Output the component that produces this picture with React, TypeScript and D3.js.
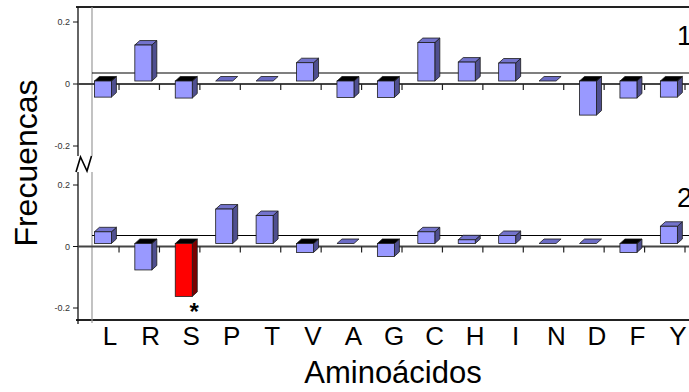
import React from 'react'
import * as d3 from 'd3'

const aminoacids = ['L', 'R', 'S', 'P', 'T', 'V', 'A', 'G', 'C', 'H', 'I', 'N', 'D', 'F', 'Y']
const panel1Values = [-0.052, 0.116, -0.055, 0, 0, 0.059, -0.053, -0.053, 0.124, 0.061, 0.058, 0, -0.11, -0.055, -0.052]
const panel2Values = [0.038, -0.086, -0.172, 0.112, 0.091, -0.029, 0, -0.042, 0.038, 0.012, 0.026, 0, 0, -0.029, 0.056]
const panel2Highlight = ['S']
const yTicks = [-0.2, 0, 0.2]
const panelNames = ['1', '2']

const W = 689
const H = 392
const FONT = 'Arial, "Liberation Sans", sans-serif'

const DX = 5
const DY = 4.5
const SHIFT = 3
const BAR_OFFSET = 15.8
const BAR_W = 17

const BLUE = { front: '#9999ff', side: '#4f4f8f', top: '#7373cc', flat: '#6b6bc4' }
const RED = { front: '#ff0000', side: '#7a0000', top: '#b30000', flat: '#b30000' }

function Bar({ x0, yBase, yVal, c }: { x0: number; yBase: number; yVal: number; c: typeof BLUE }) {
  const w = BAR_W
  const stroke = '#1a1a1a'
  const sw = 0.8
  if (Math.abs(yVal - yBase) < 0.5) {
    const pts = [[x0, yBase], [x0 + DX, yBase - DY], [x0 + w + DX, yBase - DY], [x0 + w, yBase]]
    return <polygon points={pts.map(p => p.join(',')).join(' ')} fill={c.flat} stroke={stroke} strokeWidth={sw} />
  }
  const top = Math.min(yVal, yBase)
  const bot = Math.max(yVal, yBase)
  const neg = yVal > yBase
  const side = [[x0 + w, top], [x0 + w + DX, top - DY], [x0 + w + DX, bot - DY], [x0 + w, bot]]
  const lid = [[x0, top], [x0 + DX, top - DY], [x0 + w + DX, top - DY], [x0 + w, top]]
  return (
    <g>
      <polygon points={side.map(p => p.join(',')).join(' ')} fill={c.side} stroke={stroke} strokeWidth={sw} />
      <polygon points={lid.map(p => p.join(',')).join(' ')} fill={neg ? '#000' : c.top} stroke={stroke} strokeWidth={sw} />
      <rect x={x0} y={top} width={w} height={bot - top} fill={c.front} stroke={stroke} strokeWidth={sw} />
    </g>
  )
}

export default function App() {
  const x = d3.scaleBand<string>().domain(aminoacids).range([78.6, 685]).paddingInner(0).paddingOuter(0)
  const xLabel = d3.scalePoint<string>().domain(aminoacids).range([110, 678])

  const panels = [
    { name: panelNames[0], values: panel1Values, y: d3.scaleLinear().domain([-0.2, 0.2]).range([146, 22]), nameY: 45 },
    { name: panelNames[1], values: panel2Values, y: d3.scaleLinear().domain([-0.2, 0.2]).range([308, 185]), nameY: 207 },
  ]

  const axisX = 78
  const innerX = 92
  const topY = 7
  const bottomY = 320
  const breakTop = 156
  const breakBot = 172

  return (
    <div style={{ position: 'fixed', left: 0, top: 0 }}>
      <svg width={W} height={H} style={{ display: 'block', background: '#fff' }}>
        {/* frame */}
        <line x1={76} x2={W} y1={topY} y2={topY} stroke="#222" strokeWidth={2} />
        <line x1={76} x2={W} y1={bottomY} y2={bottomY} stroke="#222" strokeWidth={2} />
        <line x1={innerX} x2={innerX} y1={topY} y2={breakTop} stroke="#9a9a9a" strokeWidth={1.2} />
        <line x1={innerX} x2={innerX} y1={breakBot} y2={bottomY + 3} stroke="#9a9a9a" strokeWidth={1.2} />
        <line x1={axisX} x2={axisX} y1={topY} y2={breakTop} stroke="#111" strokeWidth={1.3} />
        <line x1={axisX} x2={axisX} y1={breakBot} y2={bottomY + 4} stroke="#111" strokeWidth={1.3} />
        <path d="M76,172 L80.5,157 L87,171 L91.5,156" fill="none" stroke="#000" strokeWidth={1.6} />

        {panels.map((p, pi) => {
          const y0 = p.y(0)
          return (
            <g key={pi}>
              {/* left ticks */}
              {yTicks.map(t => (
                <g key={t}>
                  <line x1={axisX - 5} x2={axisX} y1={p.y(t)} y2={p.y(t)} stroke="#111" strokeWidth={1} />
                  <text x={axisX - 8} y={p.y(t)} dy="0.35em" textAnchor="end" fontFamily={FONT} fontSize={9} fill="#333">
                    {t === 0 ? '0' : t.toString()}
                  </text>
                </g>
              ))}
              {/* back wall line */}
              <line x1={innerX} x2={W} y1={y0 - SHIFT - 8} y2={y0 - SHIFT - 8} stroke="#000" strokeWidth={1.2} />
              {/* zero axis */}
              <line x1={axisX} x2={W} y1={y0} y2={y0} stroke="#444" strokeWidth={2.2} />
              {aminoacids.map(a => (
                <line key={a} x1={(x(a) as number) + x.bandwidth()} x2={(x(a) as number) + x.bandwidth()} y1={y0} y2={y0 + 6} stroke="#222" strokeWidth={1.2} />
              ))}
              {/* bars */}
              {aminoacids.map((a, i) => {
                const hl = pi === 1 && panel2Highlight.includes(a)
                return (
                  <Bar key={a} x0={(x(a) as number) + BAR_OFFSET} yBase={y0 - SHIFT} yVal={p.y(p.values[i]) - SHIFT} c={hl ? RED : BLUE} />
                )
              })}
              <text x={677} y={p.nameY} fontFamily={FONT} fontSize={27} fill="#000">{p.name}</text>
            </g>
          )
        })}

        {/* significance mark */}
        {panel2Highlight.map(a => (
          <text key={a} x={(x(a) as number) + BAR_OFFSET + BAR_W + 2} y={320} textAnchor="middle" fontFamily={FONT} fontSize={24} fontWeight="bold" fill="#000">*</text>
        ))}

        {/* category labels */}
        {aminoacids.map(a => (
          <text key={a} x={xLabel(a)} y={345} textAnchor="middle" fontFamily={FONT} fontSize={26} fill="#000">{a}</text>
        ))}

        <text x={393} y={383} textAnchor="middle" fontFamily={FONT} fontSize={31} fill="#000">Aminoácidos</text>
        <text transform="translate(37,163) rotate(-90)" textAnchor="middle" fontFamily={FONT} fontSize={32} fill="#000">Frecuencas</text>
      </svg>
    </div>
  )
}
